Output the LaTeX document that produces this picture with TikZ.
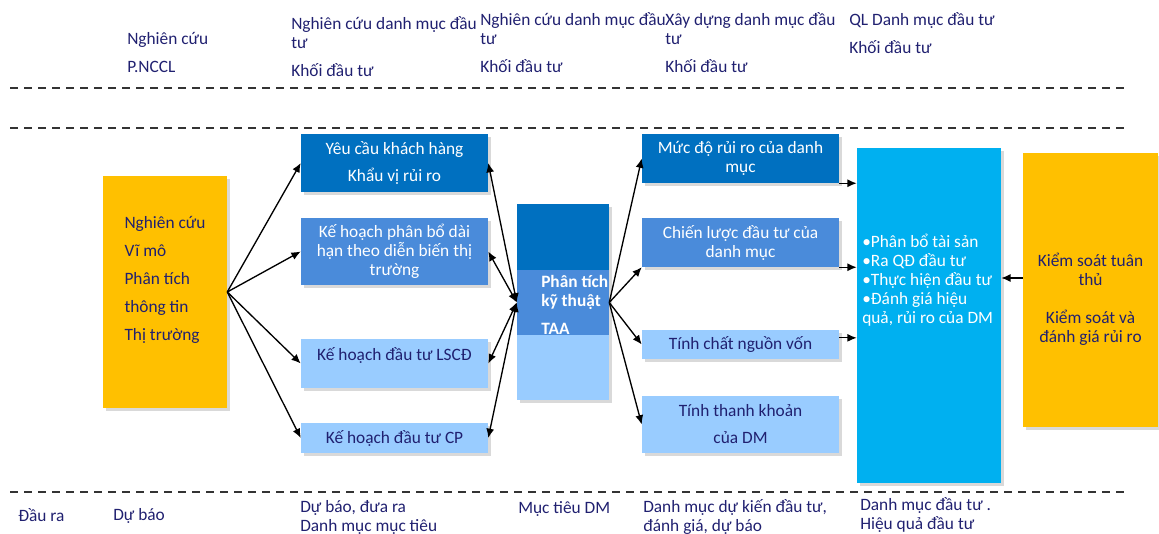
\documentclass[tikz,border=0pt]{standalone}
\usepackage{fontspec}
\setmainfont{Carlito}
\usepackage{tikz}
\usetikzlibrary{arrows.meta,shadows,calc,positioning}
\definecolor{navytext}{RGB}{32,32,112}
\definecolor{darkblue}{RGB}{0,112,192}
\definecolor{midblue}{RGB}{74,139,218}
\definecolor{lightblue}{RGB}{153,204,255}
\definecolor{cyanbox}{RGB}{0,176,240}
\definecolor{goldbox}{RGB}{255,192,0}
\newcommand{\diagfont}{\fontsize{13}{14.25}\selectfont}
\tikzset{>={Latex[length=7pt,width=6pt]}}
\tikzset{
  box/.style={inner sep=0pt, align=center, drop shadow={shadow xshift=2pt,shadow yshift=-2pt,opacity=0.3}},
  wide/.style={minimum width=140.25pt},
  wider/.style={minimum width=147.75pt},
  lbl/.style={text=navytext, align=left, inner sep=0pt, anchor=west},
  link/.style={->, line width=1pt},
  sepline/.style={dash pattern=on 6pt off 4.5pt, line width=0.9pt, draw=black!80}
}

\begin{document}
\begin{tikzpicture}[x=0.75pt,y=-0.75pt,font=\diagfont]
  \useasboundingbox (0,0) rectangle (1159,534);

  % separators
  \draw[sepline] (10,88) -- (1127,88);
  \draw[sepline] (10,128) -- (1127,128);
  \draw[sepline] (10,492) -- (1127,492);

  % column headers
  \node[lbl] (hdnccl) at (127,52) {Nghiên cứu\\[6.75pt]P.NCCL};
  \node[lbl] (hdncdm) at (291,46.5) {Nghiên cứu danh mục đầu\\tư\\[6.75pt]Khối đầu tư};
  \node[lbl] (hdncdmb) at (480,42.5) {Nghiên cứu danh mục đầu\\tư\\[6.75pt]Khối đầu tư};
  \node[lbl] (hdxddm) at (665,42.5) {Xây dựng danh mục đầu\\tư\\[6.75pt]Khối đầu tư};
  \node[lbl] (hdqldm) at (849,33) {QL Danh mục đầu tư\\[6.75pt]Khối đầu tư};

  % inputs
  \node[box, fill=goldbox, minimum width=93pt, minimum height=174pt] (nghiencuu) at (165,292) {};
  \node[lbl, anchor=center] (nghiencuutxt) at ([yshift=9pt]nghiencuu.center)
    {Nghiên cứu\\[6.75pt]Vĩ mô\\[6.75pt]Phân tích\\[6.75pt]thông tin\\[6.75pt]Thị trường};

  \node[box, wide, minimum height=43.5pt, fill=darkblue, text=white] (yeucau) at (394.5,163) {Yêu cầu khách hàng\\[6pt]Khẩu vị rủi ro};
  \node[box, wide, minimum height=50.25pt, fill=midblue, text=white] (kehoach) at (394.5,251.5) {Kế hoạch phân bổ dài\\hạn theo diễn biến thị\\trường};
  \node[box, wide, minimum height=36.75pt, fill=lightblue] (lscd) at (394.5,363.5) {};
  \node[lbl, anchor=center] (lscdtxt) at ([yshift=6pt]lscd.center) {Kế hoạch đầu tư LSCĐ};
  \node[box, wide, minimum height=22.5pt, fill=lightblue, text=navytext] (cp) at (394.5,438) {Kế hoạch đầu tư CP};

  % TAA column
  \node[box, minimum width=69pt, minimum height=49.5pt, fill=darkblue] (taatop) at (563,237) {};
  \node[box, minimum width=69pt, minimum height=48.75pt, fill=midblue] (taa) at (563,302.5) {};
  \node[box, minimum width=69pt, minimum height=48.75pt, fill=lightblue] (taabot) at (563,367.5) {};
  \node[lbl, text=white, font=\diagfont\bfseries] (taatxt) at (541,305) {Phân tích\\kỹ thuật\\[6.75pt]TAA};

  % portfolio properties
  \node[box, wider, minimum height=36.75pt, fill=darkblue, text=white] (ruiro) at (740.5,158.5) {Mức độ rủi ro của danh\\mục};
  \node[box, wider, minimum height=36.75pt, fill=midblue, text=white] (chienluoc) at (740.5,242.5) {Chiến lược đầu tư của\\danh mục};
  \node[box, wider, minimum height=21.75pt, fill=lightblue, text=navytext] (nguonvon) at (740.5,344.5) {Tính chất nguồn vốn};
  \node[box, wider, minimum height=42.75pt, fill=lightblue, text=navytext] (thanhkhoan) at (740.5,424.5) {Tính thanh khoản\\[6pt]của DM};

  % management and control
  \node[box, minimum width=108pt, minimum height=251.25pt, fill=cyanbox] (qldm) at (929,315.5) {};
  \node[lbl, text=white] (qldmtxt) at (862,280)
    {•Phân bổ tài sản\\•Ra QĐ đầu tư\\•Thực hiện đầu tư\\•Đánh giá hiệu\\quả, rủi ro của DM};
  \node[box, minimum width=101.25pt, minimum height=205.5pt, fill=goldbox] (kiemsoat) at (1090.5,290) {};
  \node[lbl, anchor=center, align=center] (kiemsoattxt) at ([yshift=-7pt]kiemsoat.center)
    {Kiểm soát tuân\\thủ\\[14.25pt]Kiểm soát và\\đánh giá rủi ro};

  % links
  \foreach \t in {yeucau,kehoach,lscd,cp}
    \draw[link] (nghiencuu.east) -- (\t.west);
  \foreach \t in {yeucau,kehoach,lscd,cp}
    \draw[link, <->] (\t.east) -- (taa.west);
  \draw[link] (taa.east) -- (ruiro.west);
  \draw[link] (taa.east) -- (chienluoc.south west);
  \draw[link] (taa.east) -- (nguonvon.west);
  \draw[link] (taa.east) -- (thanhkhoan.west);
  \draw[link] (ruiro.south east) -- (ruiro.south east -| qldm.west);
  \draw[link] (chienluoc.south east) -- (chienluoc.south east -| qldm.west);
  \draw[link] ([yshift=5pt]nguonvon.east) -- ([yshift=5pt]nguonvon.east -| qldm.west);
  \draw[link] ([yshift=9pt]kiemsoat.west) -- ([yshift=9pt]kiemsoat.west -| qldm.east);

  % outputs
  \node[lbl] (outdaura) at (18,515) {Đầu ra};
  \node[lbl] (outdubao) at (113,516) {Dự báo};
  \node[lbl] (outmuctieu) at (300,517) {Dự báo, đưa ra\\Danh mục mục tiêu};
  \node[lbl] (outdm) at (518,509) {Mục tiêu DM};
  \node[lbl] (outdukien) at (643,517) {Danh mục dự kiến đầu tư,\\đánh giá, dự báo};
  \node[lbl] (outhieuqua) at (860,515) {Danh mục đầu tư .\\Hiệu quả đầu tư};
\end{tikzpicture}
\end{document}
